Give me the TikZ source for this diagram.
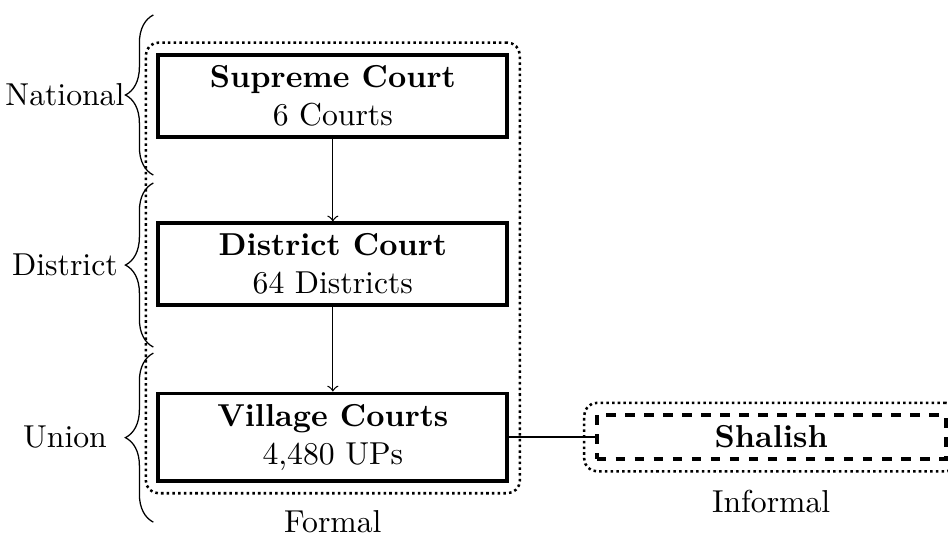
\documentclass[tikz,border=0pt]{standalone}
\usetikzlibrary{fit,decorations.pathreplacing}
\begin{document}
\begin{tikzpicture}
		[	court/.style={rectangle,draw=black,very thick,minimum width=3.87cm,align=center},
		informalbox/.style={court,dashed},
		group/.style={draw=black,thick,densely dotted,rounded corners},
		tier/.style={decorate,decoration={brace,amplitude=8.8pt}},
		plain/.style={draw=none,fill=none}
		]
		\useasboundingbox (0,0) rectangle (10.51,-5.93);
		\node[court] (supreme) at (3.69,-1.065){\textbf{Supreme Court}\\6 Courts};
		\node[court] (district) at (3.69,-2.93){\textbf{District Court}\\64 Districts};
		\node[court] (village) at (3.69,-4.846){\textbf{Village Courts}\\4,480 UPs};
		\node[informalbox] (shalish) at (8.55,-4.846){\textbf{Shalish}};
		\node[group,fit=(supreme)(district)(village)] (formal){};
		\node[group,fit=(shalish)] (informal){};
\node[plain,below=1.5pt] (formallabel) at (formal.south){Formal};
\node[plain,below=2pt] (informallabel) at (informal.south){Informal};
\node[plain] (national) at (0.72,-1.054){National};
\node[plain] (districtlevel) at (0.72,-2.939){District};
\node[plain] (union) at (0.72,-4.846){Union};
		\draw[tier] (1.70,-1.941) -- (1.70,-0.166);
		\draw[tier] (1.70,-3.848) -- (1.70,-2.029);
		\draw[tier] (1.70,-5.789) -- (1.70,-3.915);
		\draw[->] (supreme) -- (district);
		\draw[->] (district) -- (village);
		\draw (village) -- (shalish);
\end{tikzpicture}
\end{document}
